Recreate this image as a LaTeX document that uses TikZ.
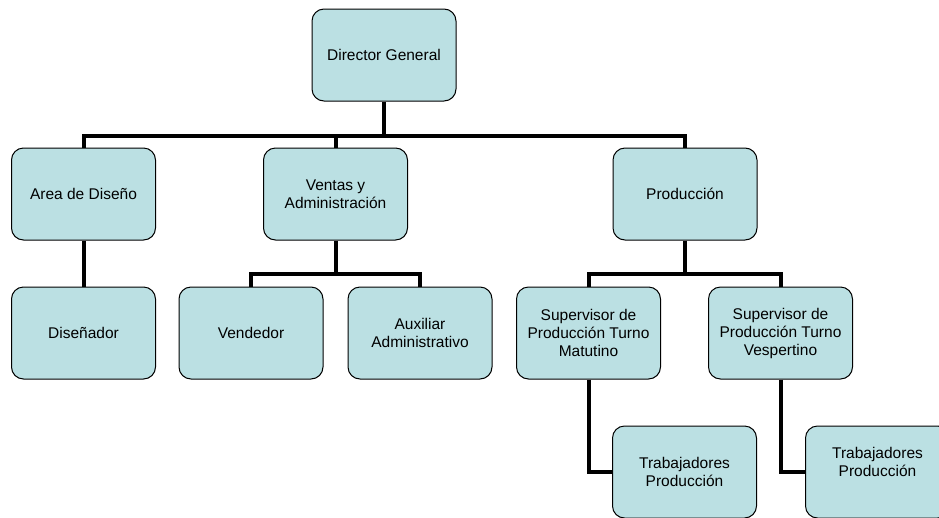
\documentclass[tikz,border=0pt]{standalone}
\usepackage{fontspec}
\setmainfont{Liberation Sans}
\usepackage{tikz}
\usetikzlibrary{calc}

\definecolor{boxfill}{RGB}{187,224,227}

\begin{document}
\begin{tikzpicture}[x=1pt,y=-1pt,
  org node/.style={rectangle,rounded corners=12pt,draw=black,line width=1pt,
    fill=boxfill,minimum width=144pt,minimum height=92pt,align=center,
    font=\fontsize{15.5}{18}\selectfont},
  conn/.style={line width=4pt,draw=black}]

\useasboundingbox (0,0) rectangle (939,517);
\clip (0,0) rectangle (939,517);

\node[org node](dir) at (384,55) {Director General};
\node[org node](area) at (83.5,194) {Area de Dise\~no};
\node[org node](ventas) at (335.5,194) {Ventas y\\Administraci\'on};
\node[org node](prod) at (685,194) {Producci\'on};
\node[org node](disen) at ($(area) + (0,139)$) {Dise\~nador};
\node[org node](vend) at (251,333) {Vendedor};
\node[org node](aux) at (420,333) {Auxiliar\\Administrativo};
\node[org node](supm) at (588.5,333) {Supervisor de\\Producci\'on Turno\\Matutino};
\node[org node](supv) at (780.5,333) {Supervisor de\\Producci\'on Turno\\Vespertino};
\node[org node](trab1) at (684.5,472) {Trabajadores\\Producci\'on};
\node[org node,text depth=21pt](trab2) at (877.5,472) {Trabajadores\\Producci\'on};

\draw[conn] (dir.south) -- ++(0,34) coordinate (bus1);
\draw[conn] (bus1) -| (area.north);
\draw[conn] (bus1) -| (ventas.north);
\draw[conn] (bus1) -| (prod.north);
\draw[conn] (area.south) -- (disen.north);
\draw[conn] (ventas.south) -- ++(0,33) coordinate (bus2);
\draw[conn] (bus2) -| (vend.north);
\draw[conn] (bus2) -| (aux.north);
\draw[conn] (prod.south) -- ++(0,33) coordinate (bus3);
\draw[conn] (bus3) -| (supm.north);
\draw[conn] (bus3) -| (supv.north);
\draw[conn] (supm.south) |- (trab1.west);
\draw[conn] (supv.south) |- (trab2.west);
\end{tikzpicture}
\end{document}
